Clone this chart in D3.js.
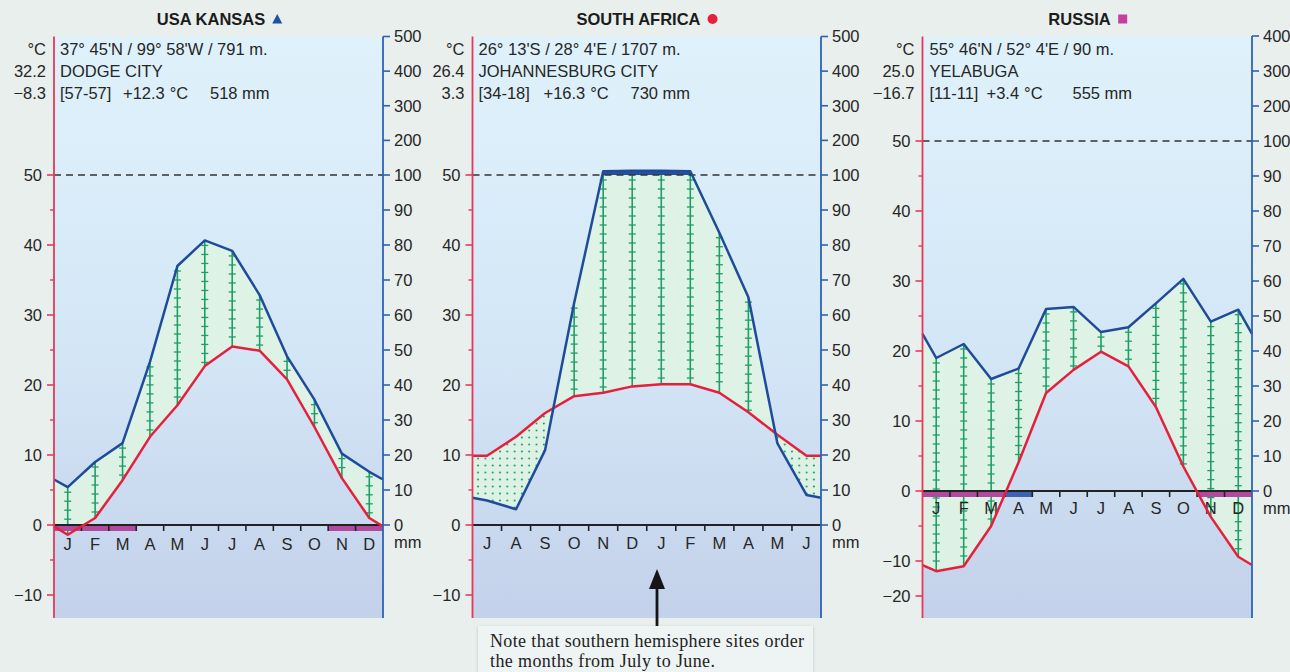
<!DOCTYPE html>
<html>
<head>
<meta charset="utf-8">
<script src="https://cdn.jsdelivr.net/npm/d3@7"></script>
<style>
  html, body { margin: 0; padding: 0; background: #e9efec; }
  svg { display: block; font-family: "Liberation Sans", Arial, sans-serif; }
</style>
</head>
<body>
<svg id="chart" width="1290" height="672"></svg>
<script>
// ---- Month labels ----
const monthsNorth = ["J", "F", "M", "A", "M", "J", "J", "A", "S", "O", "N", "D"];
const monthsSouth = ["J", "A", "S", "O", "N", "D", "J", "F", "M", "A", "M", "J"];

// ---- Dodge City, Kansas (°C, mm) ----
const kansasTemp   = [-1.4, 1.0, 6.4, 12.6, 17.1, 22.7, 25.5, 24.9, 20.8, 14.0, 6.7, 1.0];
const kansasPrecip = [10.8, 18.0, 23.4, 46.6, 74.0, 81.3, 78.3, 65.7, 48.2, 35.8, 20.4, 15.2];
// 2 = mean daily minimum below 0 °C, 1 = absolute minimum below 0 °C
const kansasFrost  = [2, 2, 2, 0, 0, 0, 0, 0, 0, 0, 2, 2];

// ---- Johannesburg (July to June) ----
const joburgTemp   = [9.9, 12.6, 16.0, 18.4, 18.9, 19.8, 20.1, 20.1, 18.9, 16.1, 12.9, 9.9];
const joburgPrecip = [7.0, 4.5, 21.4, 63.4, 111, 112, 112, 111, 83.5, 65.1, 23.3, 8.6];
const joburgFrost  = [0, 0, 0, 0, 0, 0, 0, 0, 0, 0, 0, 0];

// ---- Yelabuga, Russia ----
const yelabugaTemp   = [-12.9, -11.5, -5.0, 4.1, 14.0, 17.3, 19.9, 17.8, 12.0, 3.5, -3.7, -9.4];
const yelabugaPrecip = [38.0, 42.0, 32.0, 35.0, 52.0, 52.6, 45.4, 46.8, 53.6, 60.6, 48.4, 51.8];
const yelabugaFrost  = [2, 2, 2, 1, 0, 0, 0, 0, 0, 0, 2, 2];

// ---- Axis tick values ----
const tempTicks        = [50, 40, 30, 20, 10, 0, -10];
const tempTicksRussia  = [50, 40, 30, 20, 10, 0, -10, -20];
const tempMinorTicks   = [45, 35, 25, 15, 5, -5];
const precipTicks      = [0, 10, 20, 30, 40, 50, 60, 70, 80, 90, 100, 200, 300, 400, 500];
const precipTicksRussia = [0, 10, 20, 30, 40, 50, 60, 70, 80, 90, 100, 200, 300, 400];

// ---- Colours ----
const C = {
  text: "#262626",
  tempLine: "#e5203d",
  tempAxis: "#e5395a",
  precipLine: "#1f4c9a",
  precipAxis: "#2e62b5",
  hatch: "#1d9f66",
  humid: "rgba(222, 243, 228, 0.92)",
  frost: "#b3489f",
  frostAbs: "#3a63b3",
  band: "#24509f"
};

const panels = [
  {
    id: "ks", title: "USA KANSAS", marker: "triangle", markerColor: "#1f51a3",
    months: monthsNorth, temp: kansasTemp, precip: kansasPrecip, frost: kansasFrost,
    coords: "37° 45'N / 99° 58'W / 791 m.", station: "DODGE CITY",
    tMax: "32.2", tMin: "−8.3", years: "[57-57]", tMean: "+12.3", pTotal: "518 mm",
    tTicks: tempTicks, pTicks: precipTicks,
    layout: {
      left: 54, right: 383, top: 36.5, bottom: 618, titleX: 219.5,
      tDomain: [0, 50], tRange: [525, 175],
      pDomain: [0, 100, 500], pRange: [525, 175, 36.5],
      infoX: [6, 69, 156], monthDy: 19.5
    }
  },
  {
    id: "za", title: "SOUTH AFRICA", marker: "circle", markerColor: "#e8203c",
    months: monthsSouth, temp: joburgTemp, precip: joburgPrecip, frost: joburgFrost,
    coords: "26° 13'S / 28° 4'E / 1707 m.", station: "JOHANNESBURG CITY",
    tMax: "26.4", tMin: "3.3", years: "[34-18]", tMean: "+16.3", pTotal: "730 mm",
    tTicks: tempTicks, pTicks: precipTicks,
    layout: {
      left: 472.5, right: 821, top: 36.5, bottom: 618, titleX: 647,
      tDomain: [0, 50], tRange: [525, 175],
      pDomain: [0, 100, 500], pRange: [525, 175, 36.5],
      infoX: [6, 71, 158], monthDy: 18.5
    }
  },
  {
    id: "ru", title: "RUSSIA", marker: "square", markerColor: "#c2419f",
    months: monthsNorth, temp: yelabugaTemp, precip: yelabugaPrecip, frost: yelabugaFrost,
    coords: "55° 46'N / 52° 4'E / 90 m.", station: "YELABUGA",
    tMax: "25.0", tMin: "−16.7", years: "[11-11]", tMean: "+3.4", pTotal: "555 mm",
    tTicks: tempTicksRussia, pTicks: precipTicksRussia,
    layout: {
      left: 922.5, right: 1252, top: 36.5, bottom: 618, titleX: 1088,
      tDomain: [-20, -10, 50], tRange: [596, 561, 141],
      pDomain: [0, 100, 400], pRange: [491, 141, 36],
      infoX: [7, 64, 150], monthDy: 17.5
    }
  }
];

const svg = d3.select("#chart");
const defs = svg.append("defs");

// Plot background gradient
const grad = defs.append("linearGradient").attr("id", "plotBg")
  .attr("x1", 0).attr("y1", 0).attr("x2", 0).attr("y2", 1);
grad.append("stop").attr("offset", "0%").attr("stop-color", "#dff2fb");
grad.append("stop").attr("offset", "55%").attr("stop-color", "#d3e6f6");
grad.append("stop").attr("offset", "100%").attr("stop-color", "#c3d1ea");

// Dot pattern for the arid season
const pat = defs.append("pattern").attr("id", "aridDots")
  .attr("patternUnits", "userSpaceOnUse").attr("width", 7.3).attr("height", 7);
pat.append("circle").attr("cx", 3.6).attr("cy", 3.5).attr("r", 1.05).attr("fill", C.hatch);

// Soft shadow for the note box
const shadow = defs.append("filter").attr("id", "boxShadow")
  .attr("x", "-5%").attr("y", "-20%").attr("width", "110%").attr("height", "140%");
shadow.append("feDropShadow").attr("dx", 0).attr("dy", 1).attr("stdDeviation", 1.6)
  .attr("flood-color", "#7a8a8a").attr("flood-opacity", 0.45);

const line = d3.line();
const fmtTick = d3.format("");

panels.forEach(p => {
  const L = p.layout;
  const g = svg.append("g").attr("class", "panel-" + p.id);

  const x = d3.scaleLinear().domain([0, 12]).range([L.left, L.right]);
  const yT = d3.scaleLinear().domain(L.tDomain).range(L.tRange);
  const yP = d3.scaleLinear().domain(L.pDomain).range(L.pRange);
  const zeroY = yT(0);
  const y100 = yP(100);

  // Curve nodes: both edges carry the mean of the first and last month
  const edgeT = (p.temp[0] + p.temp[11]) / 2;
  const edgeP = (p.precip[0] + p.precip[11]) / 2;
  const nodes = [{ xi: 0, t: edgeT, pr: edgeP }]
    .concat(p.temp.map((t, i) => ({ xi: i + 0.5, t: t, pr: p.precip[i] })))
    .concat([{ xi: 12, t: edgeT, pr: edgeP }]);
  const tPts = nodes.map(d => [x(d.xi), yT(d.t)]);
  const pPts = nodes.map(d => [x(d.xi), yP(d.pr)]);

  const lowerCorners = [[L.right, L.bottom], [L.left, L.bottom]];
  const upperCorners = [[L.right, L.top], [L.left, L.top]];

  // Background
  g.append("rect").attr("x", L.left).attr("y", L.top)
    .attr("width", L.right - L.left).attr("height", L.bottom - L.top)
    .attr("fill", "url(#plotBg)");

  // Clip regions built from the two curves
  defs.append("clipPath").attr("id", p.id + "-belowP")
    .append("path").attr("d", line(pPts.concat(lowerCorners)) + "Z");
  defs.append("clipPath").attr("id", p.id + "-aboveP")
    .append("path").attr("d", line(pPts.concat(upperCorners)) + "Z");
  defs.append("clipPath").attr("id", p.id + "-above100")
    .append("rect").attr("x", L.left).attr("y", L.top)
    .attr("width", L.right - L.left).attr("height", y100 - L.top);

  // Humid season: precipitation above temperature
  g.append("path").attr("d", line(tPts.concat(upperCorners)) + "Z")
    .attr("fill", C.humid).attr("clip-path", `url(#${p.id}-belowP)`);

  // Arid season: temperature above precipitation
  g.append("path").attr("d", line(tPts.concat(lowerCorners)) + "Z")
    .attr("fill", C.humid).attr("clip-path", `url(#${p.id}-aboveP)`);
  g.append("path").attr("d", line(tPts.concat(lowerCorners)) + "Z")
    .attr("fill", "url(#aridDots)").attr("clip-path", `url(#${p.id}-aboveP)`);

  // Precipitation above 100 mm (reduced scale) as a solid band
  g.append("path").attr("d", line(pPts.concat(lowerCorners)) + "Z")
    .attr("fill", C.band).attr("clip-path", `url(#${p.id}-above100)`);

  // Vertical hatching for humid months
  p.temp.forEach((t, i) => {
    const cx = x(i + 0.5);
    const y1 = Math.max(yP(p.precip[i]), y100);
    const y2 = yT(t);
    if (y2 - y1 < 3) return;
    const hg = g.append("g").attr("stroke", C.hatch).attr("stroke-width", 1.6);
    hg.append("line").attr("x1", cx).attr("x2", cx).attr("y1", y1).attr("y2", y2);
    for (let yy = y1 + 5; yy < y2 - 2; yy += 9) {
      hg.append("line").attr("x1", cx - 3.5).attr("x2", cx + 3.5)
        .attr("y1", yy).attr("y2", yy).attr("stroke-width", 1.3);
    }
  });

  // 50 °C / 100 mm reference line
  g.append("line").attr("x1", L.left).attr("x2", L.right)
    .attr("y1", y100).attr("y2", y100)
    .attr("stroke", "#333").attr("stroke-width", 1.4).attr("stroke-dasharray", "7,5");

  // Frost bars under the month axis
  p.frost.forEach((f, i) => {
    if (!f) return;
    g.append("rect").attr("x", x(i)).attr("y", zeroY)
      .attr("width", x(i + 1) - x(i)).attr("height", 6)
      .attr("fill", f === 2 ? C.frost : C.frostAbs);
  });

  // Month axis
  g.append("line").attr("x1", L.left).attr("x2", L.right)
    .attr("y1", zeroY).attr("y2", zeroY)
    .attr("stroke", "#222").attr("stroke-width", 1.8);
  d3.range(1, 12).forEach(i => {
    g.append("line").attr("x1", x(i)).attr("x2", x(i))
      .attr("y1", zeroY).attr("y2", zeroY + 6)
      .attr("stroke", "#222").attr("stroke-width", 1.6);
  });
  g.selectAll("text.month").data(p.months).enter().append("text")
    .attr("class", "month")
    .attr("x", (d, i) => x(i + 0.5)).attr("y", zeroY + L.monthDy)
    .attr("dy", "0.36em").attr("text-anchor", "middle")
    .attr("font-size", 16.5).attr("fill", C.text).text(d => d);

  // Temperature and precipitation curves
  g.append("path").attr("d", line(tPts)).attr("fill", "none")
    .attr("stroke", C.tempLine).attr("stroke-width", 2.5).attr("stroke-linejoin", "round");
  g.append("path").attr("d", line(pPts)).attr("fill", "none")
    .attr("stroke", C.precipLine).attr("stroke-width", 2.5).attr("stroke-linejoin", "round");

  // Left (temperature) axis
  g.append("line").attr("x1", L.left).attr("x2", L.left)
    .attr("y1", L.top).attr("y2", L.bottom)
    .attr("stroke", C.tempAxis).attr("stroke-width", 1.8);
  p.tTicks.forEach(v => {
    g.append("line").attr("x1", L.left - 7).attr("x2", L.left)
      .attr("y1", yT(v)).attr("y2", yT(v))
      .attr("stroke", C.tempAxis).attr("stroke-width", 1.6);
    g.append("text").attr("x", L.left - 12).attr("y", yT(v)).attr("dy", "0.36em")
      .attr("text-anchor", "end").attr("font-size", 16.5).attr("fill", C.text)
      .text(v < 0 ? "\u2212" + Math.abs(v) : fmtTick(v));
  });
  tempMinorTicks.forEach(v => {
    g.append("line").attr("x1", L.left - 4).attr("x2", L.left)
      .attr("y1", yT(v)).attr("y2", yT(v))
      .attr("stroke", C.tempAxis).attr("stroke-width", 1.4);
  });

  // Right (precipitation) axis
  const pMax = L.pDomain[L.pDomain.length - 1];
  g.append("line").attr("x1", L.right).attr("x2", L.right)
    .attr("y1", yP(pMax)).attr("y2", L.bottom)
    .attr("stroke", C.precipAxis).attr("stroke-width", 1.8);
  p.pTicks.forEach(v => {
    g.append("line").attr("x1", L.right).attr("x2", L.right + 7)
      .attr("y1", yP(v)).attr("y2", yP(v))
      .attr("stroke", C.precipAxis).attr("stroke-width", 1.6);
    g.append("text").attr("x", L.right + 11).attr("y", yP(v)).attr("dy", "0.36em")
      .attr("font-size", 16.5).attr("fill", C.text).text(fmtTick(v));
  });
  g.append("text").attr("x", L.right + 11).attr("y", zeroY + 17.5).attr("dy", "0.36em")
    .attr("font-size", 16.5).attr("fill", C.text).text("mm");

  // Station header
  const hdrY = [49, 71, 93];
  [["°C", p.coords], [p.tMax, p.station], [p.tMin, p.years]].forEach((pair, k) => {
    g.append("text").attr("x", L.left - 8).attr("y", hdrY[k]).attr("dy", "0.36em")
      .attr("text-anchor", "end").attr("font-size", 16.5).attr("fill", C.text).text(pair[0]);
    g.append("text").attr("x", L.left + L.infoX[0]).attr("y", hdrY[k]).attr("dy", "0.36em")
      .attr("font-size", 16.5).attr("fill", C.text).text(pair[1]);
  });
  const meanText = g.append("text").attr("x", L.left + L.infoX[1]).attr("y", hdrY[2])
    .attr("dy", "0.36em").attr("font-size", 16.5).attr("fill", C.text);
  meanText.append("tspan").text(p.tMean);
  meanText.append("tspan").attr("dx", 5).text("°C");
  g.append("text").attr("x", L.left + L.infoX[2]).attr("y", hdrY[2]).attr("dy", "0.36em")
    .attr("font-size", 16.5).attr("fill", C.text).text(p.pTotal);

  // Title with its marker
  const title = g.append("text").attr("y", 19).attr("dy", "0.36em")
    .attr("font-size", 16.5).attr("font-weight", "bold").attr("fill", "#1c1c1c").text(p.title);
  const tw = title.node().getComputedTextLength();
  const total = tw + 7 + 10;
  const tx0 = L.titleX - total / 2;
  title.attr("x", tx0);
  const mx = tx0 + tw + 7 + 5, my = 19;
  if (p.marker === "triangle") {
    g.append("path").attr("d", `M${mx - 5},${my + 4.5}L${mx + 5},${my + 4.5}L${mx},${my - 5}Z`)
      .attr("fill", p.markerColor);
  } else if (p.marker === "circle") {
    g.append("circle").attr("cx", mx).attr("cy", my).attr("r", 5).attr("fill", p.markerColor);
  } else {
    g.append("rect").attr("x", mx - 4.5).attr("y", my - 4.5).attr("width", 9).attr("height", 9)
      .attr("fill", p.markerColor);
  }
});

// Note about southern hemisphere month order
const note = svg.append("g");
note.append("line").attr("x1", 657).attr("x2", 657).attr("y1", 627).attr("y2", 584)
  .attr("stroke", "#151515").attr("stroke-width", 2.8);
note.append("path").attr("d", "M657,569L649,589L665,589Z").attr("fill", "#151515");
note.append("rect").attr("x", 478).attr("y", 626).attr("width", 335).attr("height", 60)
  .attr("fill", "#eef4f4").attr("filter", "url(#boxShadow)");
const serif = "'Liberation Serif', 'DejaVu Serif', serif";
note.append("text").attr("x", 490).attr("y", 646.5)
  .attr("font-family", serif).attr("font-size", 18)
  .attr("textLength", 314).attr("lengthAdjust", "spacing")
  .attr("fill", "#222").text("Note that southern hemisphere sites order");
note.append("text").attr("x", 490).attr("y", 667)
  .attr("font-family", serif).attr("font-size", 18)
  .attr("textLength", 225).attr("lengthAdjust", "spacing")
  .attr("fill", "#222").text("the months from July to June.");
</script>
</body>
</html>
